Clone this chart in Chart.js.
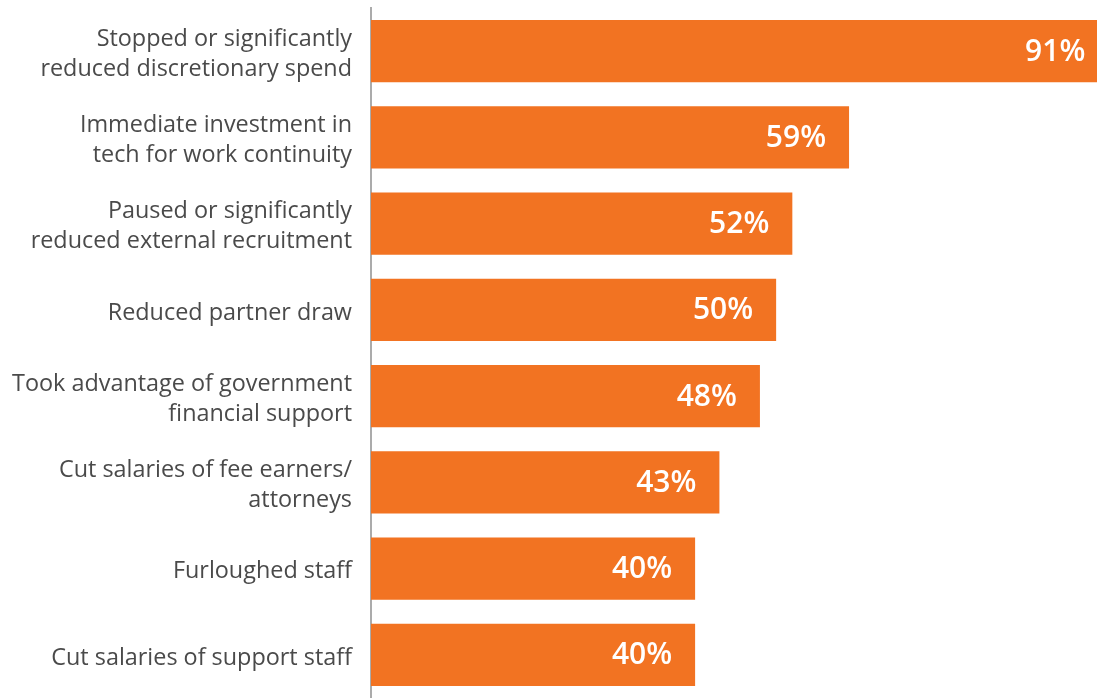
<!DOCTYPE html>
<html>
<head>
<meta charset="utf-8">
<script src="https://cdn.jsdelivr.net/npm/chart.js@4"></script>
<style>
  html, body { margin: 0; padding: 0; background: #fff; }
  #wrap { width: 1097px; height: 698px; position: relative; }
</style>
</head>
<body>
<div id="wrap"><canvas id="actionsChart"></canvas></div>
<script>
// --- Data ---
const categories = [
    ['Stopped or significantly', 'reduced discretionary spend'],
    ['Immediate investment in', 'tech for work continuity'],
    ['Paused or significantly', 'reduced external recruitment'],
    'Reduced partner draw',
    ['Took advantage of government', 'financial support'],
    ['Cut salaries of fee earners/', 'attorneys'],
    'Furloughed staff',
    'Cut salaries of support staff'
];
const percentages = [91, 59, 52, 50, 48, 43, 40, 40];

const barColor = '#F27322';
const labelFont = '"Open Sans", "Noto Sans", sans-serif';

// writes the percentage inside the end of each bar
const valueLabels = {
    id: 'valueLabels',
    afterDatasetsDraw(chart) {
        const ctx = chart.ctx;
        const xScale = chart.scales.x;
        const meta = chart.getDatasetMeta(0);
        ctx.save();
        ctx.fillStyle = '#ffffff';
        ctx.font = '600 30px ' + labelFont;
        ctx.textAlign = 'right';
        ctx.textBaseline = 'middle';
        meta.data.forEach((bar, i) => {
            const x = xScale.getPixelForValue(percentages[i]) - 23;
            ctx.fillText(percentages[i] + '%', x, bar.y + 1);
        });
        ctx.restore();
    }
};

const ctx = document.getElementById('actionsChart').getContext('2d');
new Chart(ctx, {
    type: 'bar',
    data: {
        labels: categories,
        datasets: [{
            data: percentages,
            backgroundColor: barColor,
            borderWidth: 0,
            categoryPercentage: 1,
            barPercentage: 0.72
        }]
    },
    options: {
        indexAxis: 'y',
        responsive: true,
        maintainAspectRatio: false,
        animation: false,
        layout: { padding: { top: 8, right: 0, bottom: 0, left: 0 } },
        plugins: {
            legend: { display: false },
            tooltip: { enabled: false }
        },
        scales: {
            x: {
                display: false,
                min: 0,
                max: 89.6
            },
            y: {
                grid: { display: false },
                border: { display: true, color: '#ababab', width: 2 },
                afterFit(scale) {
                    // fixed gutter for the labels, no extra room for overhanging text
                    scale.width = 371;
                    scale.paddingTop = 0;
                    scale.paddingBottom = 0;
                },
                ticks: {
                    color: '#4a4a4a',
                    padding: 11,
                    labelOffset: 3,
                    font: { family: labelFont, size: 23.4, lineHeight: 1.28 }
                }
            }
        }
    },
    plugins: [valueLabels]
});
</script>
</body>
</html>
